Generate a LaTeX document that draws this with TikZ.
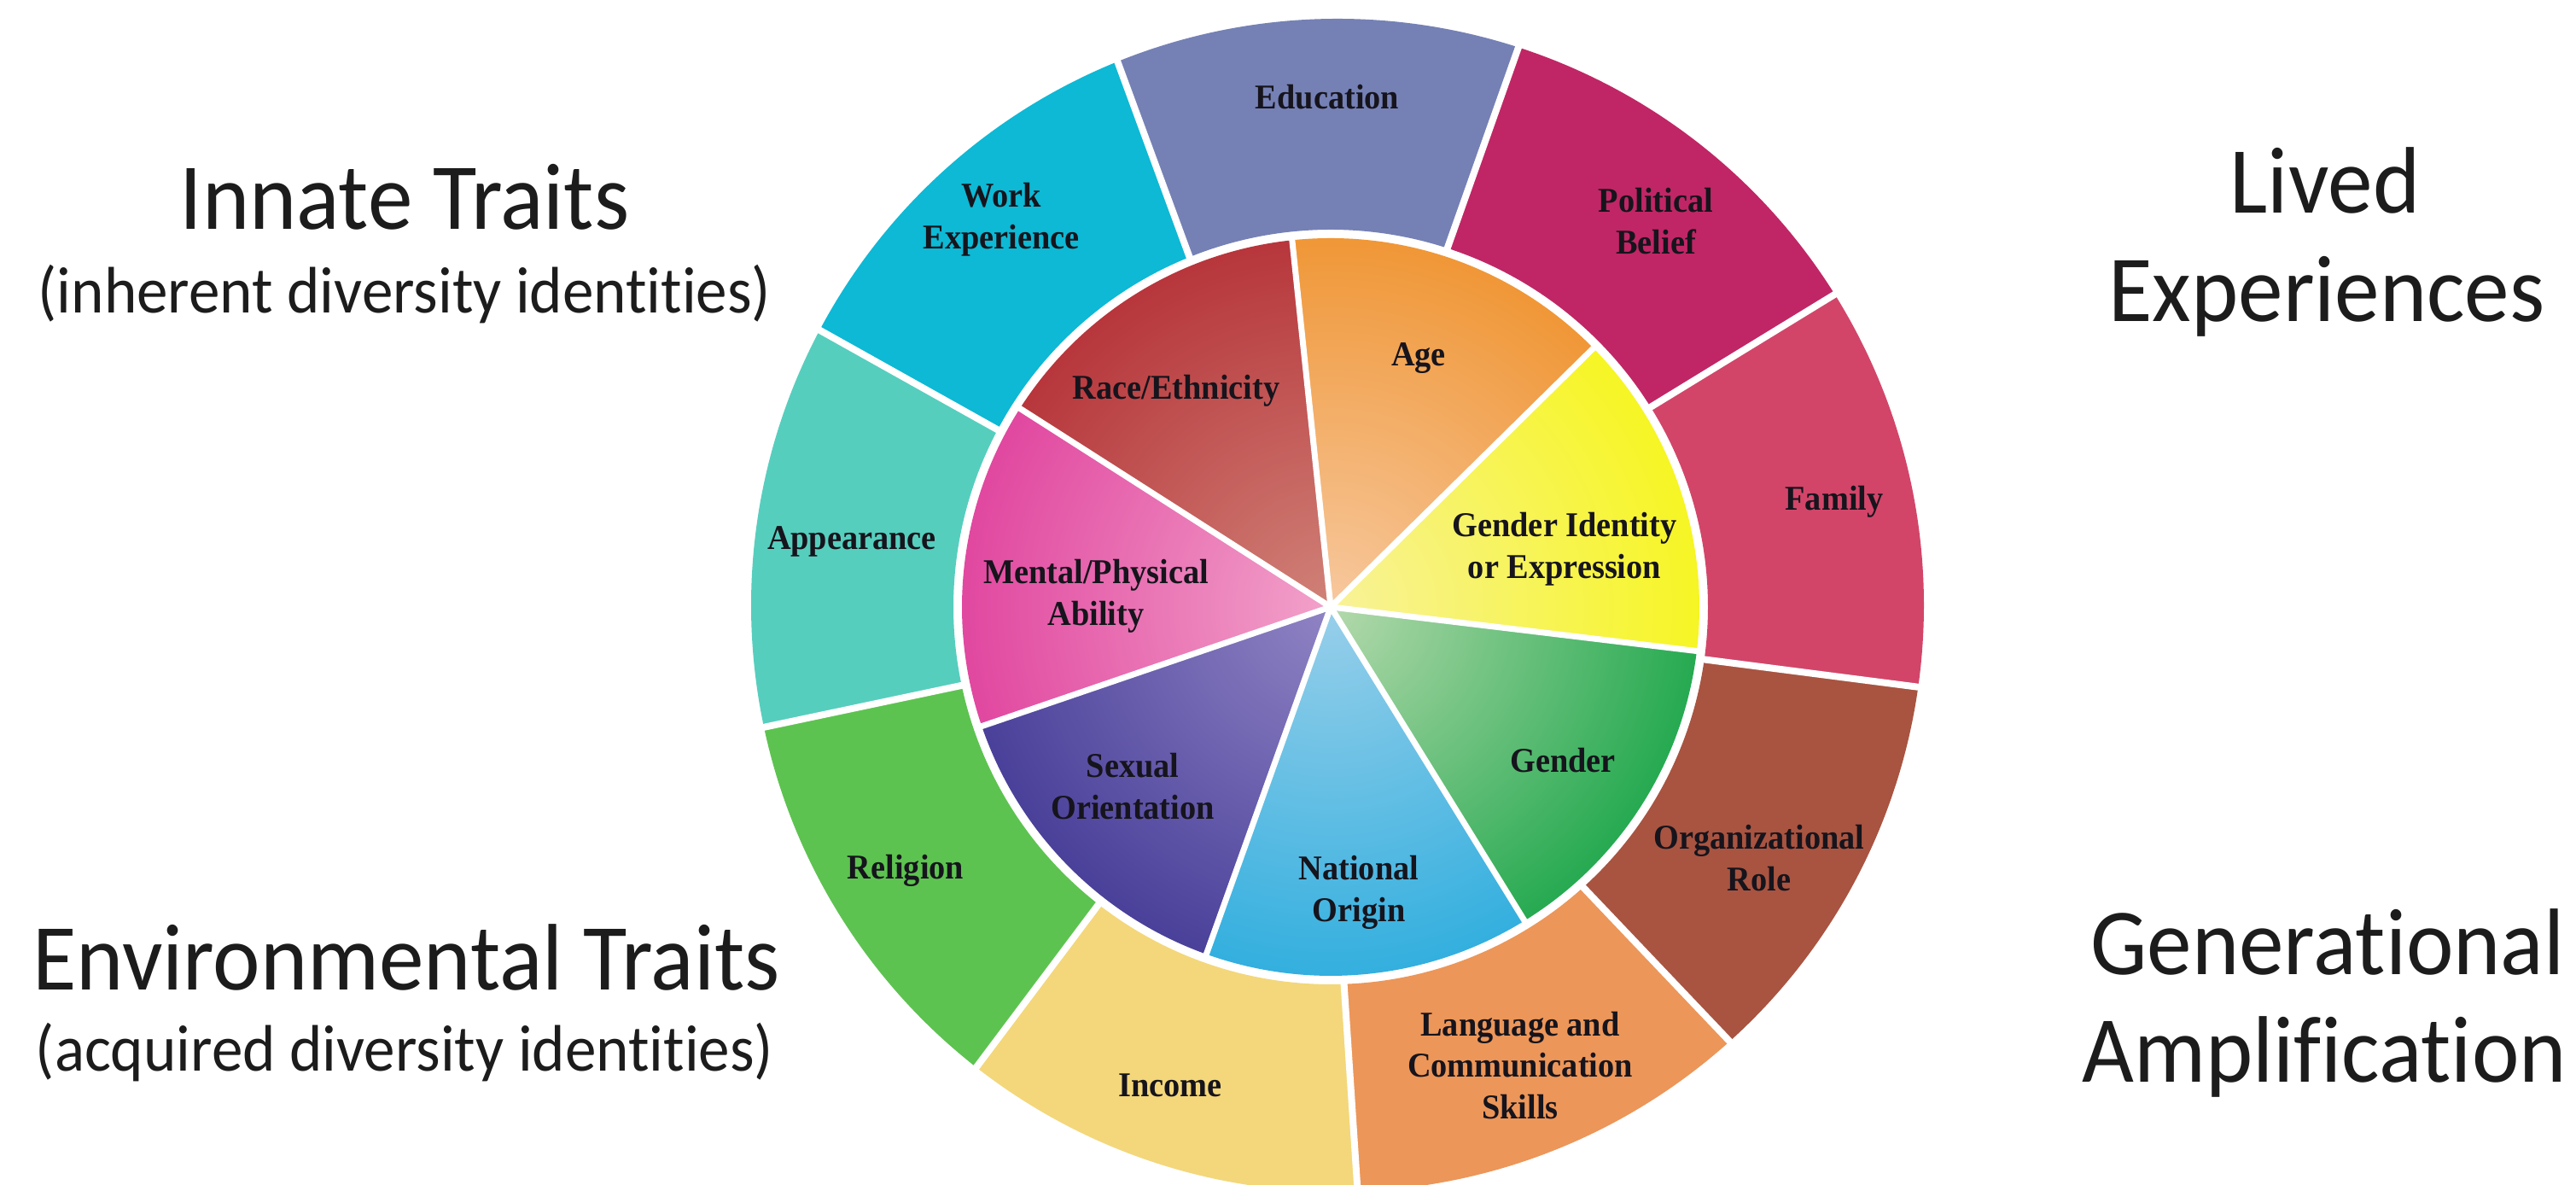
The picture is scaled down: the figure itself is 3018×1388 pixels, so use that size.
\documentclass[tikz,border=0pt]{standalone}
\usepackage{fontspec}
\setmainfont{Liberation Serif}
\newfontfamily\labelfont[FakeStretch=0.94]{Liberation Serif}
\newfontfamily\sidefont[FakeStretch=0.95,Ligatures=NoCommon]{Carlito}
\usetikzlibrary{calc}

% outer ring colours
\definecolor{eduC}{HTML}{7581B5}
\definecolor{workC}{HTML}{0DB9D5}
\definecolor{appC}{HTML}{56CEBE}
\definecolor{relC}{HTML}{5DC350}
\definecolor{incC}{HTML}{F3D77A}
\definecolor{langC}{HTML}{EC9659}
\definecolor{orgC}{HTML}{A85441}
\definecolor{famC}{HTML}{D24569}
\definecolor{polC}{HTML}{C02665}
% inner slices: light tone at the hub, full tone at the rim
\definecolor{ageLo}{HTML}{F7C89E}
\definecolor{ageHi}{HTML}{EE8C20}
\definecolor{raceLo}{HTML}{D08278}
\definecolor{raceHi}{HTML}{B1252E}
\definecolor{mentLo}{HTML}{F2A2CA}
\definecolor{mentHi}{HTML}{DD3396}
\definecolor{sexLo}{HTML}{9084C4}
\definecolor{sexHi}{HTML}{3A3190}
\definecolor{natLo}{HTML}{98CFEA}
\definecolor{natHi}{HTML}{1CA8DC}
\definecolor{gendLo}{HTML}{B4D9AC}
\definecolor{gendHi}{HTML}{069F3C}
\definecolor{gidLo}{HTML}{F8F29A}
\definecolor{gidHi}{HTML}{F6F60A}
\definecolor{labelink}{HTML}{16141C}
\definecolor{sideink}{HTML}{1C1C1C}

\begin{document}
\begin{tikzpicture}[x=0.1mm, y=0.1mm,
  wheeltext/.style={font={\labelfont\bfseries\fontsize{11.6}{13.9}\selectfont},
    text=labelink, align=center, inner sep=0pt},
  sidetext/.style={font={\sidefont\fontsize{31.5}{36}\selectfont},
    text=sideink, anchor=base, inner sep=0pt},
  subtext/.style={font={\sidefont\fontsize{21.9}{26}\selectfont},
    text=sideink, anchor=base, inner sep=0pt},
  gapline/.style={white, line width=0.8mm},
  spoke/.style={white, line width=0.7mm},
]
\useasboundingbox (0,0) rectangle (3018,1388);
\fill[white] (0,0) rectangle (3018,1388);
\clip (0,0) rectangle (3018,1388);

% hub of the inner disk and centre of the outer rim
\coordinate (ci) at (1559,677);
\coordinate (co) at (1567,679);

% outer ring: nine sectors of 40 degrees
\foreach \a/\c in {72/eduC, 112/workC, 152/appC, 192/relC, 232/incC,
                   272/langC, 312/orgC, 352/famC, 392/polC} {
  \fill[\c] ($(co)+(\a:687)$) arc[start angle=\a, end angle=\a+40, radius=687]
    -- ($(ci)+(\a+40:442)$) arc[start angle=\a+40, end angle=\a, radius=442] -- cycle;
}
\foreach \a in {72,112,152,192,232,272,312,352,392} {
  \draw[gapline] ($(ci)+(\a:436)$) -- ($(co)+(\a:700)$);
}

% inner disk: seven shaded slices
\foreach \a/\lo/\hi in {44.57/ageLo/ageHi, 96/raceLo/raceHi, 147.43/mentLo/mentHi,
                        198.86/sexLo/sexHi, 250.29/natLo/natHi,
                        301.71/gendLo/gendHi, 353.14/gidLo/gidHi} {
  \begin{scope}
    \clip (ci) -- ($(ci)+(\a:432)$) arc[start angle=\a, end angle=\a+51.43, radius=432] -- cycle;
    \shade[inner color=\lo, outer color=\hi] (ci) circle (530);
  \end{scope}
}
\foreach \a in {44.57,96,147.43,198.86,250.29,301.71,353.14} {
  \draw[spoke] (ci) -- ($(ci)+(\a:440)$);
}
\fill[white] (ci) circle (5);

% outer ring labels
\node[wheeltext] (edu)  at (1555,1274) {Education};
\node[wheeltext] (work) at (1173,1131) {Work\\Experience};
\node[wheeltext] (pol)  at (1940,1129) {Political\\Belief};
\node[wheeltext] (app)  at (998,754)   {Appearance};
\node[wheeltext] (fam)  at (2149,800)  {Family};
\node[wheeltext] (rel)  at (1061,368)  {Religion};
\node[wheeltext] (org)  at (2061,383)  {Organizational\\Role};
\node[wheeltext] (inc)  at (1371,117)  {Income};
\node[wheeltext] (lang) at (1781,140)  {Language and\\Communication\\Skills};

% inner slice labels
\node[wheeltext] (race) at (1378,930) {Race/Ethnicity};
\node[wheeltext] (age)  at (1662,968) {Age};
\node[wheeltext] (gid)  at (1833,745) {Gender Identity\\or Expression};
\node[wheeltext] (ment) at (1284,690) {Mental/Physical\\Ability};
\node[wheeltext] (sex)  at (1327,467) {Sexual\\Orientation};
\node[wheeltext] (nat)  at (1592,343) {National\\Origin};
\node[wheeltext] (gend) at (1831,497) {Gender};

% side captions
\node[sidetext] (innate)    at (474,1119) {Innate Traits};
\node[subtext]  (innatesub) at (474,1021) {(inherent diversity identities)};
\node[sidetext] (env)       at (476,228)  {Environmental Traits};
\node[subtext]  (envsub)    at (474,133)  {(acquired diversity identities)};
\node[sidetext] (lived)     at (2724,1138) {Lived};
\node[sidetext] (lived2)    at (2726,1011) {Experiences};
\node[sidetext] (gen)       at (2727,246)  {Generational};
\node[sidetext] (gen2)      at (2723,120)  {Amplification};
\end{tikzpicture}
\end{document}
